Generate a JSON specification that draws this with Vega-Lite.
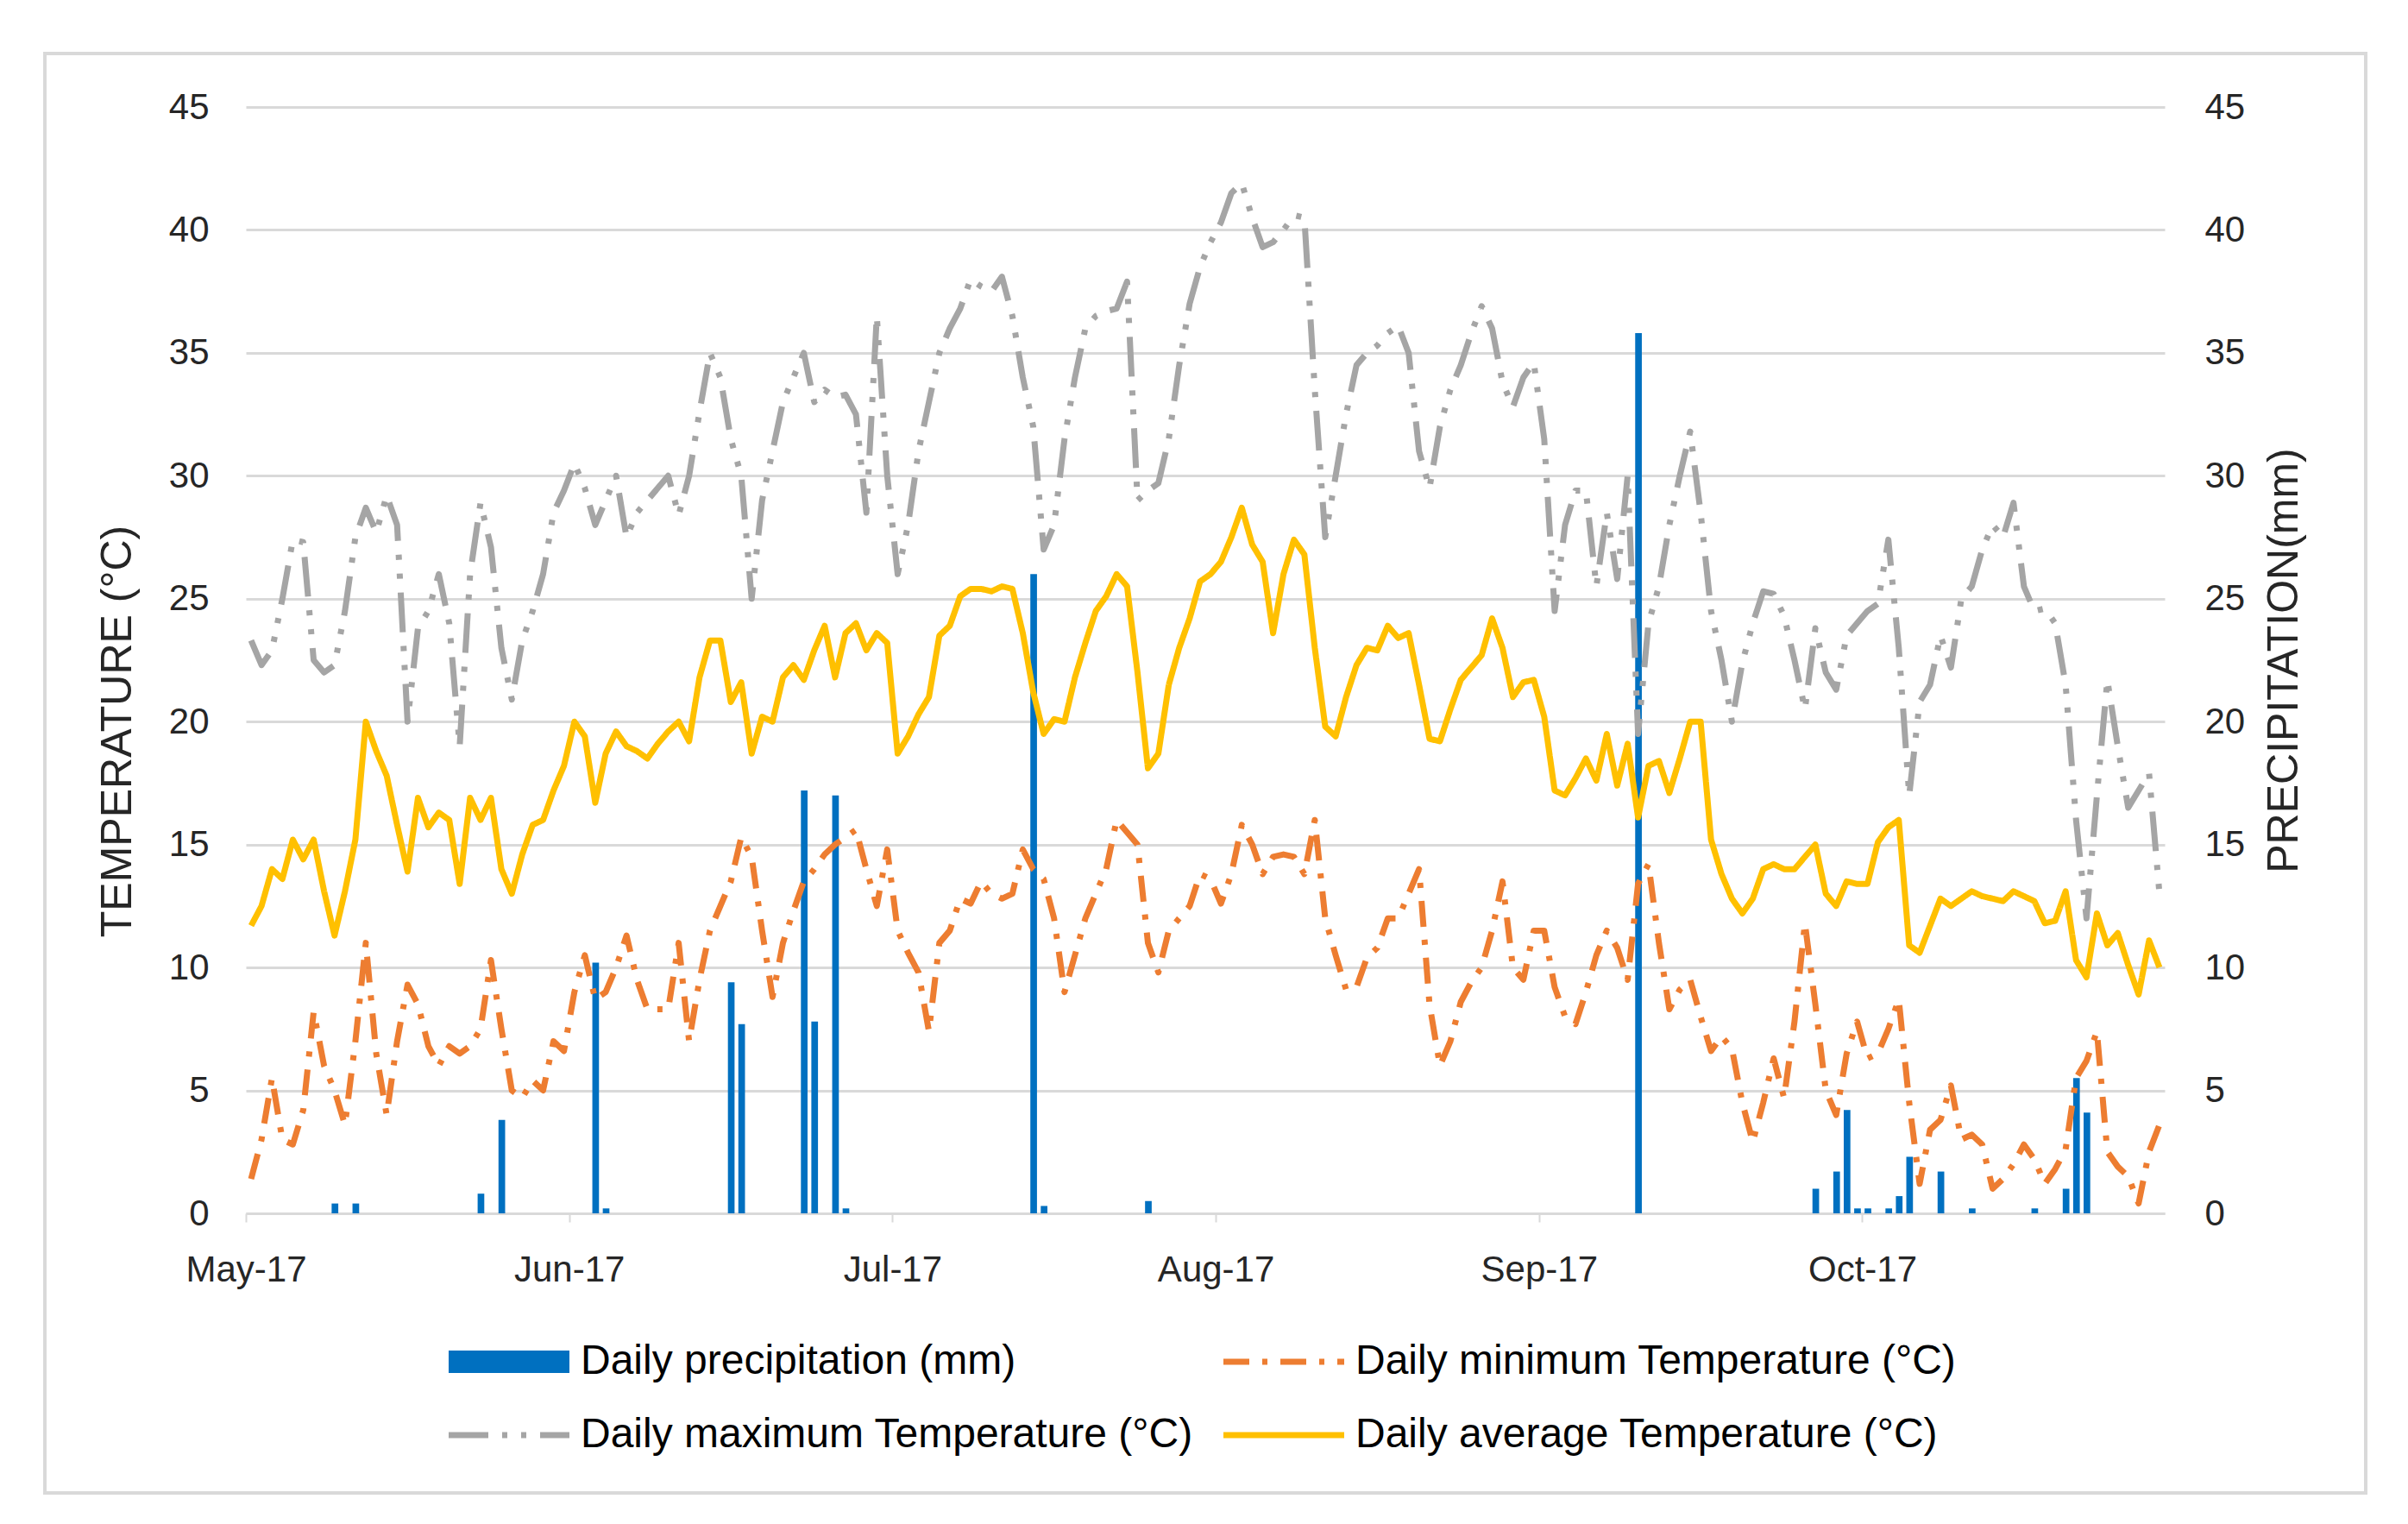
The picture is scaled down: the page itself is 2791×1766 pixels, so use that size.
{
  "$schema": "https://vega.github.io/schema/vega-lite/v6.json",
  "width": 2690,
  "height": 1668,
  "autosize": {"type": "none"},
  "padding": {"left": 52, "top": 62, "right": 49, "bottom": 36},
  "background": "white",
  "config": {
    "view": {"stroke": "#D9D9D9", "strokeWidth": 4},
    "font": "Liberation Sans",
    "axis": {"labelFont": "Liberation Sans", "titleFont": "Liberation Sans", "labelColor": "#262626", "titleColor": "#262626", "titleFontWeight": "normal"}
  },
  "data": {
    "values": [
      {"date": "2017-05-01", "avg": 11.7, "min": 1.4, "max": 23.3, "prec": 0},
      {"date": "2017-05-02", "avg": 12.5, "min": 3.0, "max": 22.3, "prec": 0},
      {"date": "2017-05-03", "avg": 14.0, "min": 5.5, "max": 22.9, "prec": 0},
      {"date": "2017-05-04", "avg": 13.6, "min": 3.0, "max": 25.0, "prec": 0},
      {"date": "2017-05-05", "avg": 15.2, "min": 2.8, "max": 27.4, "prec": 0},
      {"date": "2017-05-06", "avg": 14.4, "min": 4.2, "max": 27.3, "prec": 0},
      {"date": "2017-05-07", "avg": 15.2, "min": 8.2, "max": 22.5, "prec": 0},
      {"date": "2017-05-08", "avg": 13.1, "min": 6.0, "max": 22.0, "prec": 0},
      {"date": "2017-05-09", "avg": 11.3, "min": 5.0, "max": 22.3, "prec": 0.4},
      {"date": "2017-05-10", "avg": 13.1, "min": 3.6, "max": 24.5, "prec": 0},
      {"date": "2017-05-11", "avg": 15.2, "min": 7.0, "max": 27.5, "prec": 0.4},
      {"date": "2017-05-12", "avg": 20.0, "min": 11.0, "max": 28.7, "prec": 0},
      {"date": "2017-05-13", "avg": 18.8, "min": 6.5, "max": 27.7, "prec": 0},
      {"date": "2017-05-14", "avg": 17.8, "min": 4.0, "max": 29.2, "prec": 0},
      {"date": "2017-05-15", "avg": 15.8, "min": 7.0, "max": 28.0, "prec": 0},
      {"date": "2017-05-16", "avg": 13.9, "min": 9.3, "max": 20.0, "prec": 0},
      {"date": "2017-05-17", "avg": 16.9, "min": 8.5, "max": 23.8, "prec": 0},
      {"date": "2017-05-18", "avg": 15.7, "min": 6.8, "max": 24.5, "prec": 0},
      {"date": "2017-05-19", "avg": 16.3, "min": 6.0, "max": 26.0, "prec": 0},
      {"date": "2017-05-20", "avg": 16.0, "min": 6.8, "max": 24.0, "prec": 0},
      {"date": "2017-05-21", "avg": 13.4, "min": 6.5, "max": 19.0, "prec": 0},
      {"date": "2017-05-22", "avg": 16.9, "min": 6.8, "max": 26.0, "prec": 0},
      {"date": "2017-05-23", "avg": 16.0, "min": 7.5, "max": 28.9, "prec": 0.8},
      {"date": "2017-05-24", "avg": 16.9, "min": 10.3, "max": 27.1, "prec": 0},
      {"date": "2017-05-25", "avg": 14.0, "min": 7.5, "max": 23.0, "prec": 3.8},
      {"date": "2017-05-26", "avg": 13.0, "min": 5.0, "max": 20.9, "prec": 0},
      {"date": "2017-05-27", "avg": 14.6, "min": 4.7, "max": 23.3, "prec": 0},
      {"date": "2017-05-28", "avg": 15.8, "min": 5.4, "max": 24.5, "prec": 0},
      {"date": "2017-05-29", "avg": 16.0, "min": 5.0, "max": 26.0, "prec": 0},
      {"date": "2017-05-30", "avg": 17.2, "min": 7.0, "max": 28.5, "prec": 0},
      {"date": "2017-05-31", "avg": 18.2, "min": 6.6, "max": 29.4, "prec": 0},
      {"date": "2017-06-01", "avg": 20.0, "min": 9.0, "max": 30.5, "prec": 0},
      {"date": "2017-06-02", "avg": 19.4, "min": 10.5, "max": 29.5, "prec": 0},
      {"date": "2017-06-03", "avg": 16.7, "min": 8.7, "max": 28.0, "prec": 10.2},
      {"date": "2017-06-04", "avg": 18.7, "min": 9.0, "max": 29.0, "prec": 0.2},
      {"date": "2017-06-05", "avg": 19.6, "min": 10.0, "max": 30.0, "prec": 0},
      {"date": "2017-06-06", "avg": 19.0, "min": 11.3, "max": 27.5, "prec": 0},
      {"date": "2017-06-07", "avg": 18.8, "min": 9.5, "max": 28.5, "prec": 0},
      {"date": "2017-06-08", "avg": 18.5, "min": 8.3, "max": 29.0, "prec": 0},
      {"date": "2017-06-09", "avg": 19.1, "min": 8.3, "max": 29.5, "prec": 0},
      {"date": "2017-06-10", "avg": 19.6, "min": 8.3, "max": 30.0, "prec": 0},
      {"date": "2017-06-11", "avg": 20.0, "min": 11.0, "max": 28.4, "prec": 0},
      {"date": "2017-06-12", "avg": 19.2, "min": 7.0, "max": 30.0, "prec": 0},
      {"date": "2017-06-13", "avg": 21.8, "min": 9.5, "max": 32.6, "prec": 0},
      {"date": "2017-06-14", "avg": 23.3, "min": 11.5, "max": 35.0, "prec": 0},
      {"date": "2017-06-15", "avg": 23.3, "min": 12.5, "max": 34.0, "prec": 0},
      {"date": "2017-06-16", "avg": 20.8, "min": 13.5, "max": 31.5, "prec": 9.4},
      {"date": "2017-06-17", "avg": 21.6, "min": 15.3, "max": 30.0, "prec": 7.7},
      {"date": "2017-06-18", "avg": 18.7, "min": 14.5, "max": 25.0, "prec": 0},
      {"date": "2017-06-19", "avg": 20.2, "min": 11.5, "max": 29.0, "prec": 0},
      {"date": "2017-06-20", "avg": 20.0, "min": 8.8, "max": 31.0, "prec": 0},
      {"date": "2017-06-21", "avg": 21.8, "min": 11.0, "max": 33.0, "prec": 0},
      {"date": "2017-06-22", "avg": 22.3, "min": 12.3, "max": 34.0, "prec": 0},
      {"date": "2017-06-23", "avg": 21.7, "min": 13.5, "max": 35.0, "prec": 17.2},
      {"date": "2017-06-24", "avg": 22.9, "min": 14.0, "max": 33.0, "prec": 7.8},
      {"date": "2017-06-25", "avg": 23.9, "min": 14.6, "max": 33.5, "prec": 0},
      {"date": "2017-06-26", "avg": 21.8, "min": 15.0, "max": 33.2, "prec": 17.0},
      {"date": "2017-06-27", "avg": 23.6, "min": 15.3, "max": 33.3, "prec": 0.2},
      {"date": "2017-06-28", "avg": 24.0, "min": 15.6, "max": 32.5, "prec": 0},
      {"date": "2017-06-29", "avg": 22.9, "min": 14.0, "max": 28.5, "prec": 0},
      {"date": "2017-06-30", "avg": 23.6, "min": 12.5, "max": 36.5, "prec": 0},
      {"date": "2017-07-01", "avg": 23.2, "min": 14.8, "max": 30.0, "prec": 0},
      {"date": "2017-07-02", "avg": 18.7, "min": 11.5, "max": 26.0, "prec": 0},
      {"date": "2017-07-03", "avg": 19.4, "min": 10.6, "max": 28.0, "prec": 0},
      {"date": "2017-07-04", "avg": 20.3, "min": 9.8, "max": 31.0, "prec": 0},
      {"date": "2017-07-05", "avg": 21.0, "min": 7.4, "max": 33.0, "prec": 0},
      {"date": "2017-07-06", "avg": 23.5, "min": 11.0, "max": 35.0, "prec": 0},
      {"date": "2017-07-07", "avg": 23.9, "min": 11.5, "max": 36.0, "prec": 0},
      {"date": "2017-07-08", "avg": 25.1, "min": 12.8, "max": 36.8, "prec": 0},
      {"date": "2017-07-09", "avg": 25.4, "min": 12.6, "max": 38.0, "prec": 0},
      {"date": "2017-07-10", "avg": 25.4, "min": 13.5, "max": 37.7, "prec": 0},
      {"date": "2017-07-11", "avg": 25.3, "min": 13.0, "max": 37.5, "prec": 0},
      {"date": "2017-07-12", "avg": 25.5, "min": 12.8, "max": 38.1, "prec": 0},
      {"date": "2017-07-13", "avg": 25.4, "min": 13.0, "max": 36.5, "prec": 0},
      {"date": "2017-07-14", "avg": 23.6, "min": 14.8, "max": 34.0, "prec": 0},
      {"date": "2017-07-15", "avg": 21.2, "min": 14.0, "max": 32.0, "prec": 26.0},
      {"date": "2017-07-16", "avg": 19.5, "min": 13.6, "max": 27.0, "prec": 0.3},
      {"date": "2017-07-17", "avg": 20.1, "min": 12.0, "max": 28.0, "prec": 0},
      {"date": "2017-07-18", "avg": 20.0, "min": 9.0, "max": 31.5, "prec": 0},
      {"date": "2017-07-19", "avg": 21.8, "min": 10.5, "max": 34.0, "prec": 0},
      {"date": "2017-07-20", "avg": 23.2, "min": 12.0, "max": 36.0, "prec": 0},
      {"date": "2017-07-21", "avg": 24.5, "min": 13.0, "max": 36.5, "prec": 0},
      {"date": "2017-07-22", "avg": 25.1, "min": 14.0, "max": 36.7, "prec": 0},
      {"date": "2017-07-23", "avg": 26.0, "min": 16.0, "max": 36.8, "prec": 0},
      {"date": "2017-07-24", "avg": 25.5, "min": 15.5, "max": 37.9, "prec": 0},
      {"date": "2017-07-25", "avg": 22.0, "min": 15.0, "max": 29.0, "prec": 0},
      {"date": "2017-07-26", "avg": 18.1, "min": 11.0, "max": 29.4, "prec": 0.5},
      {"date": "2017-07-27", "avg": 18.7, "min": 9.8, "max": 29.7, "prec": 0},
      {"date": "2017-07-28", "avg": 21.5, "min": 11.5, "max": 31.5, "prec": 0},
      {"date": "2017-07-29", "avg": 23.0, "min": 12.0, "max": 34.5, "prec": 0},
      {"date": "2017-07-30", "avg": 24.2, "min": 12.5, "max": 37.0, "prec": 0},
      {"date": "2017-07-31", "avg": 25.7, "min": 13.8, "max": 38.5, "prec": 0},
      {"date": "2017-08-01", "avg": 26.0, "min": 13.6, "max": 39.5, "prec": 0},
      {"date": "2017-08-02", "avg": 26.5, "min": 12.6, "max": 40.3, "prec": 0},
      {"date": "2017-08-03", "avg": 27.5, "min": 13.8, "max": 41.5, "prec": 0},
      {"date": "2017-08-04", "avg": 28.7, "min": 15.8, "max": 41.9, "prec": 0},
      {"date": "2017-08-05", "avg": 27.2, "min": 15.0, "max": 40.5, "prec": 0},
      {"date": "2017-08-06", "avg": 26.5, "min": 13.8, "max": 39.3, "prec": 0},
      {"date": "2017-08-07", "avg": 23.6, "min": 14.5, "max": 39.5, "prec": 0},
      {"date": "2017-08-08", "avg": 26.0, "min": 14.6, "max": 40.0, "prec": 0},
      {"date": "2017-08-09", "avg": 27.4, "min": 14.5, "max": 40.6, "prec": 0},
      {"date": "2017-08-10", "avg": 26.8, "min": 13.8, "max": 40.5, "prec": 0},
      {"date": "2017-08-11", "avg": 23.0, "min": 16.0, "max": 33.5, "prec": 0},
      {"date": "2017-08-12", "avg": 19.8, "min": 12.0, "max": 27.5, "prec": 0},
      {"date": "2017-08-13", "avg": 19.4, "min": 10.5, "max": 30.0, "prec": 0},
      {"date": "2017-08-14", "avg": 21.0, "min": 9.1, "max": 32.5, "prec": 0},
      {"date": "2017-08-15", "avg": 22.3, "min": 9.2, "max": 34.5, "prec": 0},
      {"date": "2017-08-16", "avg": 23.0, "min": 10.4, "max": 35.0, "prec": 0},
      {"date": "2017-08-17", "avg": 22.9, "min": 10.8, "max": 35.3, "prec": 0},
      {"date": "2017-08-18", "avg": 23.9, "min": 12.0, "max": 35.8, "prec": 0},
      {"date": "2017-08-19", "avg": 23.4, "min": 12.0, "max": 36.1, "prec": 0},
      {"date": "2017-08-20", "avg": 23.6, "min": 13.0, "max": 35.0, "prec": 0},
      {"date": "2017-08-21", "avg": 21.5, "min": 14.0, "max": 31.0, "prec": 0},
      {"date": "2017-08-22", "avg": 19.3, "min": 8.5, "max": 29.5, "prec": 0},
      {"date": "2017-08-23", "avg": 19.2, "min": 6.0, "max": 32.0, "prec": 0},
      {"date": "2017-08-24", "avg": 20.5, "min": 7.0, "max": 33.5, "prec": 0},
      {"date": "2017-08-25", "avg": 21.7, "min": 8.6, "max": 34.5, "prec": 0},
      {"date": "2017-08-26", "avg": 22.2, "min": 9.4, "max": 35.8, "prec": 0},
      {"date": "2017-08-27", "avg": 22.7, "min": 10.0, "max": 36.9, "prec": 0},
      {"date": "2017-08-28", "avg": 24.2, "min": 11.5, "max": 36.0, "prec": 0},
      {"date": "2017-08-29", "avg": 23.0, "min": 13.5, "max": 33.8, "prec": 0},
      {"date": "2017-08-30", "avg": 21.0, "min": 10.0, "max": 32.8, "prec": 0},
      {"date": "2017-08-31", "avg": 21.6, "min": 9.5, "max": 34.0, "prec": 0},
      {"date": "2017-09-01", "avg": 21.7, "min": 11.5, "max": 34.6, "prec": 0},
      {"date": "2017-09-02", "avg": 20.2, "min": 11.5, "max": 31.5, "prec": 0},
      {"date": "2017-09-03", "avg": 17.2, "min": 9.2, "max": 24.5, "prec": 0},
      {"date": "2017-09-04", "avg": 17.0, "min": 8.0, "max": 28.0, "prec": 0},
      {"date": "2017-09-05", "avg": 17.7, "min": 7.7, "max": 29.4, "prec": 0},
      {"date": "2017-09-06", "avg": 18.5, "min": 9.0, "max": 29.4, "prec": 0},
      {"date": "2017-09-07", "avg": 17.6, "min": 10.5, "max": 25.5, "prec": 0},
      {"date": "2017-09-08", "avg": 19.5, "min": 11.5, "max": 28.5, "prec": 0},
      {"date": "2017-09-09", "avg": 17.4, "min": 10.8, "max": 25.8, "prec": 0},
      {"date": "2017-09-10", "avg": 19.1, "min": 9.5, "max": 30.0, "prec": 0},
      {"date": "2017-09-11", "avg": 16.1, "min": 13.4, "max": 19.5, "prec": 35.8},
      {"date": "2017-09-12", "avg": 18.2, "min": 14.2, "max": 24.0, "prec": 0},
      {"date": "2017-09-13", "avg": 18.4, "min": 11.0, "max": 25.5, "prec": 0},
      {"date": "2017-09-14", "avg": 17.1, "min": 8.3, "max": 28.0, "prec": 0},
      {"date": "2017-09-15", "avg": 18.5, "min": 9.1, "max": 30.0, "prec": 0},
      {"date": "2017-09-16", "avg": 20.0, "min": 9.5, "max": 31.8, "prec": 0},
      {"date": "2017-09-17", "avg": 20.0, "min": 8.0, "max": 28.5, "prec": 0},
      {"date": "2017-09-18", "avg": 15.2, "min": 6.6, "max": 24.5, "prec": 0},
      {"date": "2017-09-19", "avg": 13.8, "min": 7.2, "max": 22.5, "prec": 0},
      {"date": "2017-09-20", "avg": 12.8, "min": 6.7, "max": 20.0, "prec": 0},
      {"date": "2017-09-21", "avg": 12.2, "min": 4.5, "max": 22.4, "prec": 0},
      {"date": "2017-09-22", "avg": 12.8, "min": 2.9, "max": 24.0, "prec": 0},
      {"date": "2017-09-23", "avg": 14.0, "min": 4.5, "max": 25.3, "prec": 0},
      {"date": "2017-09-24", "avg": 14.2, "min": 6.3, "max": 25.2, "prec": 0},
      {"date": "2017-09-25", "avg": 14.0, "min": 4.7, "max": 24.3, "prec": 0},
      {"date": "2017-09-26", "avg": 14.0, "min": 7.8, "max": 22.5, "prec": 0},
      {"date": "2017-09-27", "avg": 14.5, "min": 11.8, "max": 20.5, "prec": 0},
      {"date": "2017-09-28", "avg": 15.0, "min": 8.5, "max": 23.8, "prec": 1.0},
      {"date": "2017-09-29", "avg": 13.0, "min": 5.0, "max": 22.0, "prec": 0},
      {"date": "2017-09-30", "avg": 12.5, "min": 4.0, "max": 21.3, "prec": 1.7},
      {"date": "2017-10-01", "avg": 13.5, "min": 6.5, "max": 23.5, "prec": 4.2},
      {"date": "2017-10-02", "avg": 13.4, "min": 7.8, "max": 24.0, "prec": 0.2},
      {"date": "2017-10-03", "avg": 13.4, "min": 6.3, "max": 24.5, "prec": 0.2},
      {"date": "2017-10-04", "avg": 15.1, "min": 6.5, "max": 24.8, "prec": 0},
      {"date": "2017-10-05", "avg": 15.7, "min": 7.5, "max": 27.4, "prec": 0.2},
      {"date": "2017-10-06", "avg": 16.0, "min": 8.7, "max": 23.0, "prec": 0.7},
      {"date": "2017-10-07", "avg": 10.9, "min": 4.5, "max": 17.0, "prec": 2.3},
      {"date": "2017-10-08", "avg": 10.6, "min": 1.2, "max": 20.8, "prec": 0},
      {"date": "2017-10-09", "avg": 11.7, "min": 3.4, "max": 21.5, "prec": 0},
      {"date": "2017-10-10", "avg": 12.8, "min": 3.8, "max": 23.5, "prec": 1.7},
      {"date": "2017-10-11", "avg": 12.5, "min": 5.2, "max": 22.2, "prec": 0},
      {"date": "2017-10-12", "avg": 12.8, "min": 3.0, "max": 25.0, "prec": 0},
      {"date": "2017-10-13", "avg": 13.1, "min": 3.2, "max": 25.5, "prec": 0.2},
      {"date": "2017-10-14", "avg": 12.9, "min": 2.8, "max": 27.0, "prec": 0},
      {"date": "2017-10-15", "avg": 12.8, "min": 1.0, "max": 28.0, "prec": 0},
      {"date": "2017-10-16", "avg": 12.7, "min": 1.4, "max": 27.5, "prec": 0},
      {"date": "2017-10-17", "avg": 13.1, "min": 2.0, "max": 28.9, "prec": 0},
      {"date": "2017-10-18", "avg": 12.9, "min": 2.8, "max": 25.5, "prec": 0},
      {"date": "2017-10-19", "avg": 12.7, "min": 2.2, "max": 24.5, "prec": 0.2},
      {"date": "2017-10-20", "avg": 11.8, "min": 1.2, "max": 24.6, "prec": 0},
      {"date": "2017-10-21", "avg": 11.9, "min": 1.8, "max": 24.0, "prec": 0},
      {"date": "2017-10-22", "avg": 13.1, "min": 2.6, "max": 21.5, "prec": 1.0},
      {"date": "2017-10-23", "avg": 10.3, "min": 5.5, "max": 16.0, "prec": 5.5},
      {"date": "2017-10-24", "avg": 9.6, "min": 6.2, "max": 12.0, "prec": 4.1},
      {"date": "2017-10-25", "avg": 12.2, "min": 7.4, "max": 17.0, "prec": 0},
      {"date": "2017-10-26", "avg": 10.9, "min": 2.5, "max": 21.7, "prec": 0},
      {"date": "2017-10-27", "avg": 11.4, "min": 1.9, "max": 19.0, "prec": 0},
      {"date": "2017-10-28", "avg": 10.1, "min": 1.5, "max": 16.5, "prec": 0},
      {"date": "2017-10-29", "avg": 8.9, "min": 0.4, "max": 17.2, "prec": 0},
      {"date": "2017-10-30", "avg": 11.1, "min": 2.5, "max": 17.9, "prec": 0},
      {"date": "2017-10-31", "avg": 10.0, "min": 3.6, "max": 13.0, "prec": 0}
    ]
  },
  "transform": [{"fold": ["prec", "min", "max", "avg"], "as": ["series", "value"]}],
  "layer": [
    {
      "transform": [{"filter": "datum.series == 'prec'"}],
      "mark": {"type": "bar", "width": {"band": 0.72}},
      "encoding": {
        "x": {
          "field": "date", "type": "temporal", "timeUnit": "utcyearmonthdate",
          "scale": {
            "domain": [{"year": 2017, "month": 5, "date": 1, "utc": true}, {"year": 2017, "month": 11, "date": 1, "utc": true}],
            "range": [233, 2457]
          },
          "axis": {
            "orient": "bottom", "offset": -324, "title": null, "grid": false,
            "values": [
              {"year": 2017, "month": 5, "date": 1, "utc": true},
              {"year": 2017, "month": 6, "date": 1, "utc": true},
              {"year": 2017, "month": 7, "date": 2, "utc": true},
              {"year": 2017, "month": 8, "date": 2, "utc": true},
              {"year": 2017, "month": 9, "date": 2, "utc": true},
              {"year": 2017, "month": 10, "date": 3, "utc": true}
            ],
            "labelExpr": "utcFormat(datum.value, '%b-%y')",
            "domain": true, "domainColor": "#D9D9D9", "domainWidth": 3,
            "ticks": true, "tickColor": "#D9D9D9", "tickSize": 10, "tickWidth": 2,
            "labelFontSize": 42, "labelPadding": 35, "labelFlush": false, "labelOverlap": false
          }
        },
        "y": {
          "field": "value", "type": "quantitative",
          "scale": {"domain": [0, 45], "range": [1344, 62], "nice": false},
          "axis": {
            "orient": "right", "offset": -233, "values": [0, 5, 10, 15, 20, 25, 30, 35, 40, 45],
            "title": "PRECIPITATION(mm)", "titleFontSize": 50, "titleAngle": 270,
            "titleX": 138, "titleY": 703, "titleAlign": "center", "titleBaseline": "middle",
            "grid": false, "domain": false, "ticks": false, "labelFontSize": 42, "labelPadding": 46
          }
        },
        "color": {
          "field": "series", "type": "nominal",
          "scale": {"domain": ["prec", "max", "min", "avg"], "range": ["#0070C0", "#A5A5A5", "#ED7D31", "#FFC000"]},
          "legend": {
            "orient": "none", "legendX": 468, "legendY": 1486, "columns": 2, "columnPadding": 35, "rowPadding": 25,
            "gridAlign": "all", "clipHeight": 60,
            "title": null, "padding": 0, "symbolType": "stroke", "symbolSize": 19600, "symbolOffset": 46,
            "labelFont": "Liberation Sans", "labelFontSize": 48, "labelColor": "#000000", "labelLimit": 1500, "labelOffset": 59,
            "labelExpr": "{'prec': 'Daily precipitation (mm)', 'min': 'Daily minimum Temperature (°C)', 'max': 'Daily maximum Temperature (°C)', 'avg': 'Daily average Temperature (°C)'}[datum.label]",
            "encode": {
              "symbols": {
                "update": {
                  "stroke": {"signal": "scale('color', datum.value)"},
                  "fill": {"value": "transparent"},
                  "strokeWidth": {"signal": "datum.value == 'prec' ? 26 : 7"},
                  "strokeDash": {"signal": "scale('strokeDash', datum.value)"},
                  "opacity": {"value": 1}
                }
              }
            }
          }
        }
      }
    },
    {
      "transform": [{"filter": "datum.series != 'prec'"}],
      "mark": {"type": "line", "strokeWidth": 7, "strokeJoin": "round", "strokeCap": "butt"},
      "encoding": {
        "x": {"field": "date", "type": "temporal", "timeUnit": "utcyearmonthdate", "bandPosition": 0.5},
        "y": {
          "field": "value", "type": "quantitative",
          "scale": {"domain": [0, 45], "range": [1344, 62], "nice": false},
          "axis": {
            "orient": "left", "offset": -233, "values": [0, 5, 10, 15, 20, 25, 30, 35, 40, 45],
            "title": "TEMPERATURE (°C)", "titleFontSize": 50, "titleAngle": 270,
            "titleX": -149, "titleY": 785, "titleAlign": "center", "titleBaseline": "middle",
            "grid": true, "gridColor": "#D9D9D9", "gridWidth": 3,
            "domain": false, "ticks": false, "labelFontSize": 42, "labelPadding": 43
          }
        },
        "color": {"field": "series", "type": "nominal"},
        "strokeDash": {
          "field": "series", "type": "nominal",
          "scale": {"domain": ["prec", "max", "min", "avg"], "range": [[1, 0], [46, 16, 6, 16, 6, 16], [30, 15, 6, 15], [1, 0]]},
          "legend": null
        }
      }
    }
  ],
  "resolve": {"scale": {"y": "independent"}}
}
